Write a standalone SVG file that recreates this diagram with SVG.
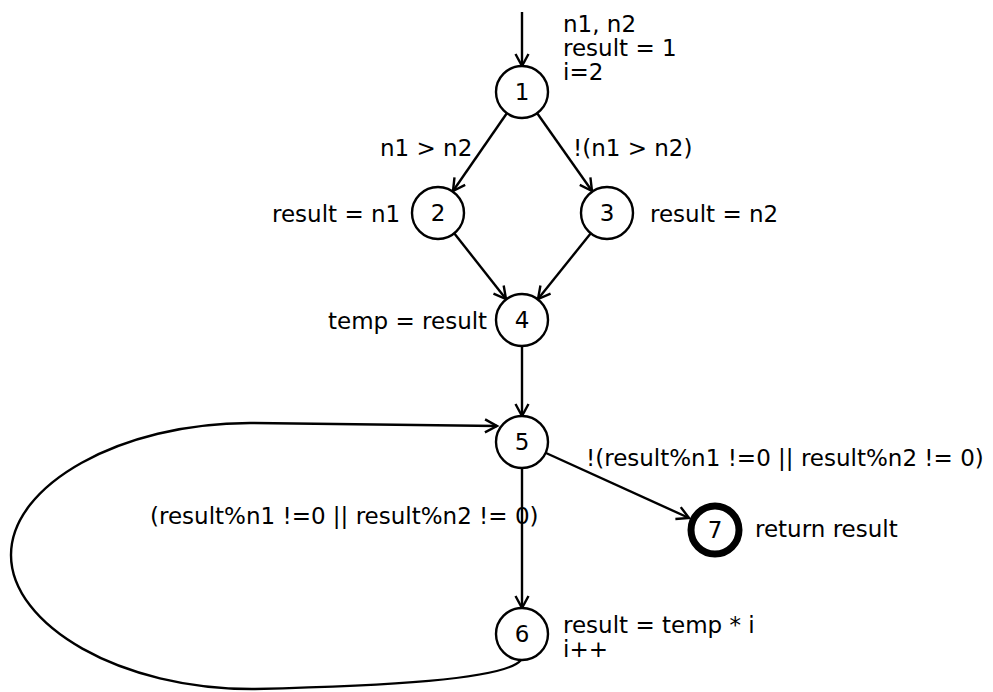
<svg xmlns="http://www.w3.org/2000/svg" width="993" height="692" viewBox="0 0 993 692">
<defs>
<marker id="arr" markerWidth="16" markerHeight="16" refX="13" refY="8" orient="auto" markerUnits="userSpaceOnUse">
<path d="M1,1.5 L13,8 L1,14.5" fill="none" stroke="#000" stroke-width="2.4"/>
</marker>
<style>
.n{fill:#fff;stroke:#000;stroke-width:2.4}
.f{fill:#fff;stroke:#000;stroke-width:7}
.e{fill:none;stroke:#000;stroke-width:2.4;marker-end:url(#arr)}
text{font-family:"DejaVu Sans",Verdana,sans-serif;font-size:23px;fill:#000}
.c{text-anchor:middle}
</style>
</defs>
<rect width="993" height="692" fill="#fff"/>
<g id="connectors">
<path class="e" d="M522,12 L522,66"/>
<path class="e" d="M507,113 L453,191"/>
<path class="e" d="M537,113 L592,191"/>
<path class="e" d="M454,233 L506,299"/>
<path class="e" d="M591,233 L538,299"/>
<path class="e" d="M522,346 L522,416"/>
<path class="e" d="M522,468 L522,608"/>
<path class="e" d="M546,453 L689,518"/>
<path class="e" d="M521,660 C505,680 380,686 255,689 C120,690 11,625 11,555 C11,485 120,423 250,423 L497,426"/>
<text x="380" y="156">n1 &gt; n2</text>
<text x="573" y="156">!(n1 &gt; n2)</text>
<text x="586" y="466">!(result%n1 !=0 || result%n2 != 0)</text>
<text x="150" y="524">(result%n1 !=0 || result%n2 != 0)</text>
</g>
<g id="start-label">
<text x="563" y="32">n1, n2</text>
<text x="563" y="56">result = 1</text>
<text x="563" y="80">i=2</text>
</g>
<g id="node1"><circle class="n" cx="522" cy="92" r="26"/><text class="c" x="522" y="100">1</text></g>
<g id="node2"><circle class="n" cx="438" cy="213" r="26"/><text class="c" x="438" y="221">2</text><text x="272" y="222">result = n1</text></g>
<g id="node3"><circle class="n" cx="607" cy="213" r="26"/><text class="c" x="607" y="221">3</text><text x="650" y="222">result = n2</text></g>
<g id="node4"><circle class="n" cx="522" cy="320" r="26"/><text class="c" x="522" y="328">4</text><text x="328" y="329">temp = result</text></g>
<g id="node5"><circle class="n" cx="522" cy="442" r="26"/><text class="c" x="522" y="450">5</text></g>
<g id="node6"><circle class="n" cx="522" cy="634" r="26"/><text class="c" x="522" y="642">6</text><text x="563" y="633">result = temp * i</text><text x="563" y="657">i++</text></g>
<g id="node7"><circle class="f" cx="715" cy="530" r="24"/><text class="c" x="715" y="538">7</text><text x="755" y="537">return result</text></g>
</svg>
